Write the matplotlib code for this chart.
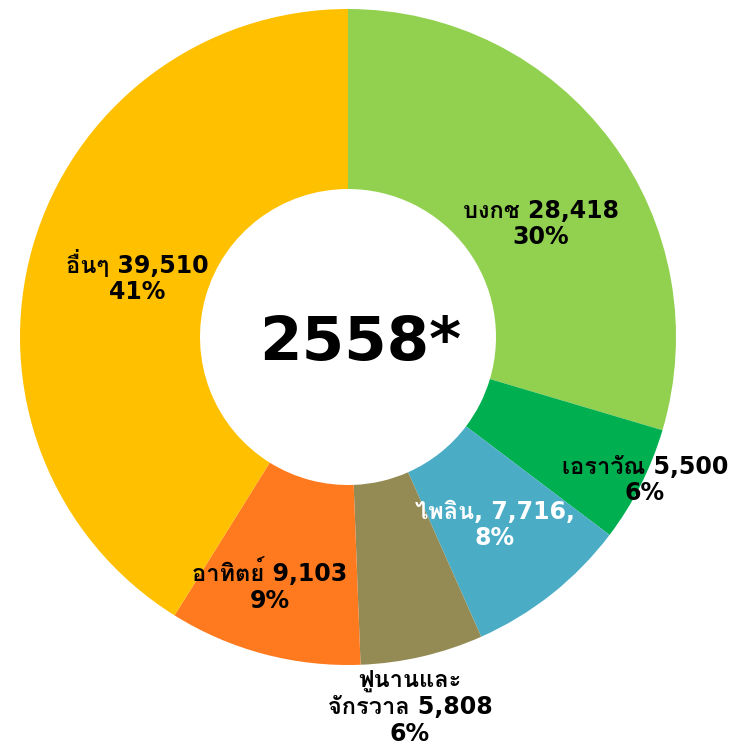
import matplotlib
matplotlib.use("Agg")
import matplotlib.pyplot as plt

# Thai glyphs come from Loma (looped, Tahoma-like); Latin/digits from DejaVu
plt.rcParams["font.family"] = ["DejaVu Sans", "Loma"]

# ---- data ----
names = ["บงกช", "เอราวัณ", "ไพลิน,", "ฟูนานและ\nจักรวาล", "อาทิตย์", "อื่นๆ"]
values = [28418, 5500, 7716, 5808, 9103, 39510]
year_label = "2558*"

colors = ["#92D050", "#00B050", "#4BACC6", "#948A54", "#FF7A1E", "#FFC000"]
text_colors = ["black", "black", "white", "black", "black", "black"]

# ---- layout (pixel space, y up) ----
W, H = 738, 748
center = (348, H - 337)
radius = 328
hole = 148
# label block centres, pixels from top-left
label_xy = [(541, 224), (645, 480), (495, 525), (410, 707), (270, 585), (137, 277)]

fig = plt.figure(figsize=(W / 100, H / 100), dpi=100)
ax = fig.add_axes([0, 0, 1, 1])

total = sum(values)
ax.pie(
    values,
    colors=colors,
    startangle=90,
    counterclock=False,
    center=center,
    radius=radius,
    wedgeprops=dict(width=radius - hole, linewidth=0),
    frame=True,
)
ax.set_xlim(0, W)
ax.set_ylim(0, H)
ax.set_aspect("equal")
ax.axis("off")

for name, v, (px, py), tc in zip(names, values, label_xy, text_colors):
    pct = round(100 * v / total)
    # the ไพลิน label carries trailing commas in the source chart
    if name.endswith(","):
        txt = f"{name} {v:,},\n{pct}%"
    else:
        txt = f"{name} {v:,}\n{pct}%"
    ax.text(px, H - py, txt, ha="center", va="center", fontsize=17,
            fontweight="bold", color=tc, linespacing=1.15)

ax.text(center[0] + 12, center[1] - 6, year_label, ha="center", va="center",
        fontsize=44, fontweight="bold", color="black")

fig.savefig("out.png", dpi=100)
